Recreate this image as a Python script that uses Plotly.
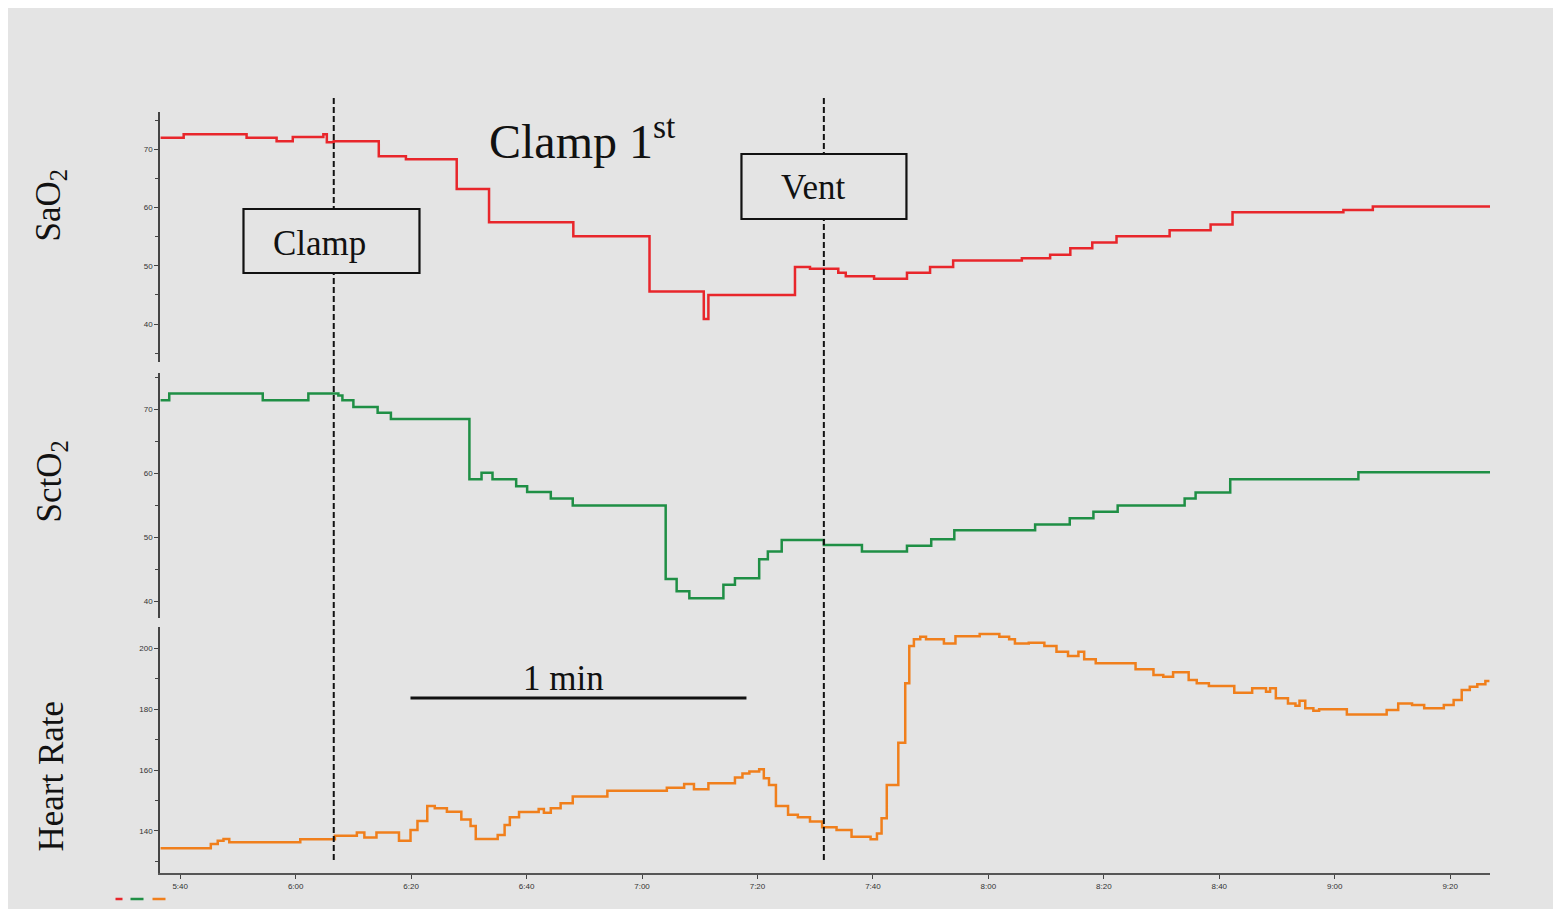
import plotly.graph_objects as go

# ---------------- data (time in seconds) -------------
sao2_t = [336.6, 340.6, 351.5, 356.7, 359.5, 364.8, 365.4, 366.6, 374.4, 379.1, 387.9,
          393.5, 408.1, 421.3, 430.7, 431.5, 446.5, 449.1, 454.0, 455.3, 460.2, 465.9,
          469.9, 473.9, 485.8, 490.7, 494.2, 498.0, 502.2, 511.4, 518.5, 522.3, 541.5,
          546.6, 566.9]
sao2_v = [72.0, 72.6, 72.0, 71.4, 72.1, 72.6, 71.2, 71.4, 68.8, 68.3, 63.2,
          57.5, 55.1, 45.6, 40.9, 45.0, 49.8, 49.5, 48.8, 48.2, 47.8, 48.8,
          49.8, 50.9, 51.3, 51.9, 53.0, 54.0, 55.1, 56.1, 57.1, 59.2, 59.6,
          60.2, 60.2]

scto2_t = [336.6, 338.1, 354.3, 362.2, 367.4, 368.1, 370.0, 374.2, 376.5, 390.1, 392.2,
           394.1, 398.2, 400.1, 404.2, 408.0, 424.1, 426.0, 428.2, 434.1, 436.1, 440.3,
           441.8, 444.2, 451.5, 458.1, 465.9, 470.1, 474.1, 488.1, 494.1, 498.2, 502.4,
           514.0, 515.9, 521.9, 544.1, 566.9]
scto2_v = [71.45, 72.5, 71.45, 72.5, 72.2, 71.45, 70.4, 69.5, 68.5, 59.1, 60.1,
           59.1, 58.0, 57.1, 56.1, 55.0, 43.5, 41.6, 40.5, 42.6, 43.6, 46.6,
           47.8, 49.6, 48.8, 47.8, 48.7, 49.7, 51.1, 52.0, 53.0, 54.0, 55.0,
           56.1, 57.0, 59.1, 60.2, 60.2]

hr_t = [336.6, 345.3, 346.5, 347.5, 348.5, 360.8, 366.8, 370.6, 371.9, 374.0, 377.9,
        379.9, 381.1, 382.8, 384.1, 386.2, 388.7, 390.3, 391.2, 395.0, 396.2, 397.1,
        398.7, 402.1, 403.0, 404.2, 405.9, 408.0, 414.0, 424.3, 427.3, 429.0, 431.5,
        436.1, 437.4, 438.6, 440.3, 441.1, 442.0, 443.2, 445.3, 447.0, 449.1, 451.2,
        453.7, 456.3, 459.6, 460.7, 461.5, 462.4, 464.4, 465.6, 466.3, 467.1, 468.2,
        469.2, 472.3, 474.3, 478.5, 481.9, 483.6, 484.6, 487.0, 489.7, 491.8, 493.8,
        495.6, 496.6, 498.6, 505.5, 508.6, 510.3, 512.0, 514.7, 516.1, 518.2, 522.6,
        525.7, 528.1, 528.8, 529.8, 531.9, 533.2, 533.9, 534.9, 536.3, 537.3, 542.1,
        549.0, 551.0, 553.4, 555.5, 558.9, 560.6, 562.0, 563.4, 564.7, 566.1, 566.8]
hr_v = [134.3, 135.7, 136.8, 137.4, 136.3, 137.3, 138.4, 139.5, 137.9, 139.5, 136.8,
        140.3, 143.3, 148.2, 147.5, 146.3, 143.8, 141.6, 137.4, 138.7, 142.0, 144.5,
        146.2, 147.2, 146.0, 147.5, 149.1, 151.3, 153.2, 154.2, 155.4, 153.7, 155.7,
        157.6, 158.9, 159.5, 160.3, 157.3, 155.1, 148.2, 145.3, 144.5, 143.1, 141.2,
        140.3, 138.1, 137.3, 139.2, 144.2, 155.1, 169.0, 188.5, 200.8, 203.0, 203.8,
        203.0, 201.6, 204.0, 204.7, 203.8, 203.0, 201.6, 201.8, 200.8, 198.9, 197.5,
        198.9, 196.4, 195.1, 193.1, 191.2, 190.7, 192.1, 189.6, 188.5, 187.6, 185.4,
        186.9, 185.7, 186.9, 183.6, 181.9, 181.1, 182.8, 180.3, 179.5, 180.0, 178.3,
        179.7, 181.9, 181.4, 180.3, 181.4, 183.0, 186.3, 187.4, 188.2, 189.3, 189.3]

x_tickvals = [340, 360, 380, 400, 420, 440, 460, 480, 500, 520, 540, 560]
x_ticktext = ["5:40", "6:00", "6:20", "6:40", "7:00", "7:20", "7:40", "8:00",
              "8:20", "8:40", "9:00", "9:20"]
sat_ticks = [40, 50, 60, 70]
hr_ticks = [140, 160, 180, 200]
event_times = [366.6, 451.5]          # Clamp, Vent
event_labels = ["Clamp", "Vent"]

# ---------------- figure ----------------
OFF = 8                     # page body margin
W, H = 1545, 901            # figure size (page = OFF + size + OFF)
L, R, T, B = 159.5, 1489.6, 112, 873   # plot-area edges in screen pixels


def px(x):
    return (x - L) / (R - L)


def py(y):
    return (B - y) / (B - T)


BG = "#e4e4e4"
RED, GREEN, ORANGE = "#e8262b", "#1f8f45", "#f07f1c"

fig = go.Figure()
fig.add_trace(go.Scatter(x=sao2_t, y=sao2_v, mode="lines", line_shape="hv",
                         line=dict(color=RED, width=2.5), yaxis="y", name="SaO2"))
fig.add_trace(go.Scatter(x=scto2_t, y=scto2_v, mode="lines", line_shape="hv",
                         line=dict(color=GREEN, width=2.5), yaxis="y2", name="SctO2"))
fig.add_trace(go.Scatter(x=hr_t, y=hr_v, mode="lines", line_shape="hv",
                         line=dict(color=ORANGE, width=2.5), yaxis="y3", name="HR"))

tickfont = dict(family="Liberation Sans", size=8, color="#333333")
yax_common = dict(showline=True, linecolor="#444444", linewidth=1.5, ticks="outside",
                  ticklen=4, tickcolor="#444444", tickfont=tickfont, showgrid=False,
                  zeroline=False, anchor="x", fixedrange=True)

fig.update_layout(
    width=W, height=H,
    margin=dict(l=L - OFF, r=(OFF + W) - R, t=T - OFF, b=(OFF + H) - B, pad=0),
    paper_bgcolor=BG, plot_bgcolor=BG,
    showlegend=False,
    xaxis=dict(domain=[0, 1], anchor="y3", range=[336.5, 566.9],
               tickvals=x_tickvals, ticktext=x_ticktext, showline=True,
               linecolor="#555555", linewidth=2, ticks="outside", ticklen=4,
               tickcolor="#444444", tickfont=tickfont, showgrid=False, zeroline=False),
    yaxis=dict(domain=[py(362), 1], range=[33.5, 76.4], tickvals=sat_ticks,
               minor=dict(dtick=5, tick0=0, ticks="outside", ticklen=3, tickcolor="#444444"),
               **yax_common),
    yaxis2=dict(domain=[py(618), py(373)], range=[37.4, 75.7], tickvals=sat_ticks,
                minor=dict(dtick=5, tick0=0, ticks="outside", ticklen=3, tickcolor="#444444"),
                **yax_common),
    yaxis3=dict(domain=[0, py(627)], range=[126.2, 207.0], tickvals=hr_ticks,
                minor=dict(dtick=10, tick0=0, ticks="outside", ticklen=3, tickcolor="#444444"),
                **yax_common),
)

shapes = []
# event dashed lines
for t in event_times:
    shapes.append(dict(type="line", xref="x", yref="paper", x0=t, x1=t,
                       y0=py(860), y1=py(98),
                       line=dict(color="#111111", width=2, dash="6px,3px")))
# boxes
shapes.append(dict(type="rect", xref="paper", yref="paper", x0=px(243), x1=px(419),
                   y0=py(273), y1=py(209), line=dict(color="#111111", width=2.2),
                   fillcolor=BG))
shapes.append(dict(type="rect", xref="paper", yref="paper", x0=px(741), x1=px(906),
                   y0=py(219), y1=py(154), line=dict(color="#111111", width=2.2),
                   fillcolor=BG))
# 1 min scale bar
shapes.append(dict(type="line", xref="paper", yref="paper", x0=px(410), x1=px(746),
                   y0=py(698), y1=py(698), line=dict(color="#111111", width=3)))
# little colour keys bottom-left
for c, a, b in [(RED, 115, 122), (GREEN, 130, 143), (ORANGE, 152, 165)]:
    shapes.append(dict(type="line", xref="paper", yref="paper", x0=px(a), x1=px(b),
                       y0=py(899), y1=py(899), line=dict(color=c, width=2.5)))
fig.update_layout(shapes=shapes)

serif = "Liberation Serif"
ann = []
ann.append(dict(text="SaO<sub>2</sub>", x=px(50), y=py(205), textangle=-90))
ann.append(dict(text="SctO<sub>2</sub>", x=px(50), y=py(482), textangle=-90))
ann.append(dict(text="Heart Rate", x=px(50), y=py(776), textangle=-90))
ann.append(dict(text=event_labels[0], x=px(319), y=py(243)))
ann.append(dict(text=event_labels[1], x=px(813), y=py(187)))
ann.append(dict(text="1 min", x=px(563), y=py(678)))
annotations = []
for a in ann:
    a.update(xref="paper", yref="paper", showarrow=False, xanchor="center",
             yanchor="middle", font=dict(family=serif, size=35, color="#111111"))
    annotations.append(a)
annotations.append(dict(text="Clamp 1<sup>st</sup>", x=px(487), y=py(138), xref="paper",
                        yref="paper", showarrow=False, xanchor="left", yanchor="middle",
                        font=dict(family=serif, size=48, color="#111111")))
fig.update_layout(annotations=annotations)

fig.write_html("out.html")
